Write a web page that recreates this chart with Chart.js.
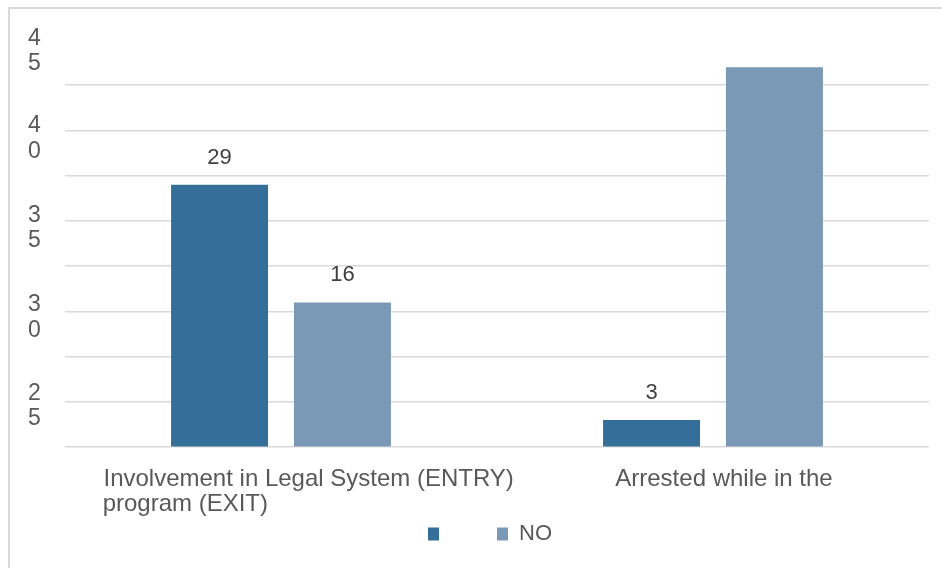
<!DOCTYPE html>
<html>
<head>
<meta charset="utf-8">
<script src="https://cdn.jsdelivr.net/npm/chart.js@4"></script>
<style>
  html, body { margin: 0; padding: 0; background: #fff; overflow: hidden; }
  .frame { position: absolute; left: 8px; top: 7px; width: 1000px; height: 600px;
           border-left: 2px solid #d9d9d9; border-top: 2px solid #d9d9d9; }
  #chart { position: absolute; left: 10px; top: 9px; }
</style>
</head>
<body>
<div class="frame"></div>
<canvas id="chart" width="932" height="559"></canvas>
<script>
// categories (wrapped the way the original shows them)
const categories = [
    ['     Involvement in Legal System (ENTRY)', 'program (EXIT)' + ' '.repeat(32)],
    'Arrested while in the'
];
const seriesNames = ['YES', 'NO'];
const yesValues = [29, 3];
const noValues = [16, 42];
// value labels visible in the original (the 42 has none)
const showYes = [true, true];
const showNo = [true, false];

// axis
const yMin = 0;
const yMax = 45;
const yStep = 5;
// tick text as printed, and where it sits on the value scale
const yTickText = ['45', '40', '35', '30', '25'];
const yTickAt = [43.8, 34.1, 24.2, 14.3, 4.5];

const colors = ['#346f99', '#7a99b6'];
const textColor = '#595959';
const gridColor = '#d9d9d9';

Chart.defaults.font.family = "'Liberation Sans', Arial, sans-serif";
Chart.defaults.color = textColor;

// value labels above the bars
const valueLabels = {
    id: 'valueLabels',
    afterDatasetsDraw(chart) {
        const ctx = chart.ctx;
        const shown = [showYes, showNo];
        ctx.save();
        ctx.font = "22px 'Liberation Sans', Arial, sans-serif";
        ctx.fillStyle = '#404040';
        ctx.textAlign = 'center';
        ctx.textBaseline = 'alphabetic';
        chart.data.datasets.forEach((ds, i) => {
            chart.getDatasetMeta(i).data.forEach((bar, j) => {
                if (!shown[i][j]) return;
                ctx.fillText(String(ds.data[j]), bar.x, bar.y - 21);
            });
        });
        ctx.restore();
    }
};

new Chart(document.getElementById('chart'), {
    type: 'bar',
    data: {
        labels: categories,
        datasets: [
            { label: seriesNames[0], data: yesValues, backgroundColor: colors[0] },
            { label: seriesNames[1], data: noValues, backgroundColor: colors[1] }
        ]
    },
    options: {
        responsive: false,
        animation: false,
        devicePixelRatio: 1,
        categoryPercentage: 0.569,
        barPercentage: 0.789,
        layout: { padding: { left: 41, right: 13, top: 31, bottom: 13 } },
        plugins: {
            tooltip: { enabled: false },
            legend: {
                position: 'bottom',
                labels: {
                    boxWidth: 11,
                    boxHeight: 13,
                    padding: 3,
                    font: { size: 22 },
                    color: textColor,
                    generateLabels(chart) {
                        const items = Chart.defaults.plugins.legend.labels.generateLabels(chart);
                        // the first series name is not printed in the original
                        items[0].fontColor = 'rgba(0,0,0,0)';
                        items.forEach(it => { it.lineWidth = 0; });
                        return items;
                    }
                }
            }
        },
        scales: {
            x: {
                grid: { display: false },
                border: { display: false },
                ticks: {
                    color: textColor,
                    font: { size: 24, lineHeight: 1.04 },
                    padding: 12,
                    labelOffset: 11,
                    autoSkip: false,
                    maxRotation: 0,
                    minRotation: 0
                },
                afterFit(scale) { scale.height = 72.8; }
            },
            y: {
                min: yMin,
                max: yMax,
                ticks: { stepSize: yStep, display: false },
                border: { display: false },
                grid: {
                    drawTicks: false,
                    lineWidth: 1.5,
                    color: c => (c.tick && c.tick.value === yMax) ? 'rgba(0,0,0,0)' : gridColor
                },
                afterFit(scale) { scale.width = 0; scale.paddingTop = 0; scale.paddingBottom = 0; }
            },
            yLab: {
                position: 'left',
                min: yMin,
                max: yMax,
                grid: { display: false },
                border: { display: false },
                afterBuildTicks(scale) {
                    scale.ticks = yTickAt.map(v => ({ value: v }));
                },
                ticks: {
                    color: textColor,
                    font: { size: 23, lineHeight: 1.1 },
                    mirror: true,
                    padding: -37,
                    autoSkip: false,
                    callback: (value, index) => yTickText[index].split('')
                },
                afterFit(scale) { scale.width = 14; scale.paddingTop = 0; scale.paddingBottom = 0; }
            }
        }
    },
    plugins: [valueLabels]
});
</script>
</body>
</html>
